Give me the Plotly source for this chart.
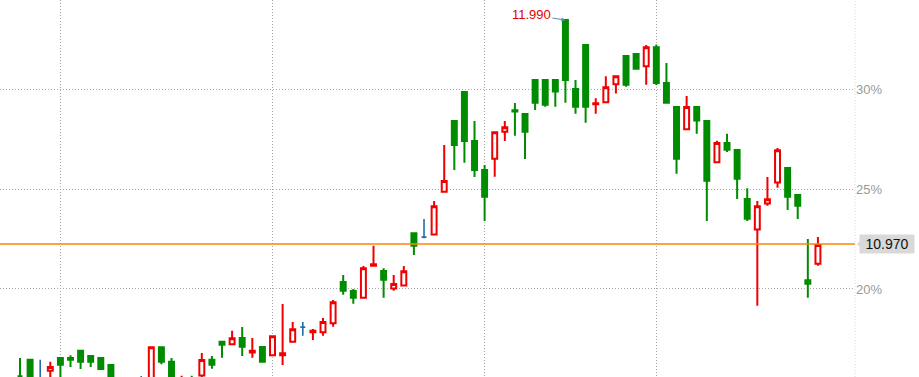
import plotly.graph_objects as go

# ---- data ----
opens = [10.367, 10.442, 10.346, 10.393, 10.451, 10.451, 10.483, 10.460, 10.451, 10.419,
         10.282, 10.305, 10.328, 10.328, 10.500, 10.433, 10.305, 10.351, 10.371, 10.442,
         10.524, 10.513, 10.542, 10.476, 10.501, 10.463, 10.463, 10.525, 10.591, 10.568,
         10.568, 10.609, 10.797, 10.756, 10.725, 10.871, 10.847, 10.767, 10.781, 11.019,
         11.001, 11.013, 11.208, 11.530, 11.662, 11.439, 11.307, 11.358, 11.481, 11.579,
         11.562, 11.717, 11.717, 11.717, 11.990, 11.676, 11.876, 11.606, 11.615, 11.697,
         11.826, 11.835, 11.779, 11.866, 11.703, 11.594, 11.492, 11.594, 11.530, 11.342,
         11.430, 11.398, 11.175, 11.036, 11.154, 11.250, 11.316, 11.193, 10.805, 10.880]
highs = [10.451, 10.442, 10.442, 10.433, 10.451, 10.463, 10.483, 10.460, 10.451, 10.419,
         10.351, 10.342, 10.369, 10.500, 10.500, 10.451, 10.370, 10.370, 10.473, 10.460,
         10.524, 10.575, 10.592, 10.542, 10.501, 10.550, 10.697, 10.615, 10.615, 10.583,
         10.633, 10.715, 10.829, 10.765, 10.870, 10.962, 10.859, 10.829, 10.870, 11.019,
         11.084, 11.166, 11.421, 11.530, 11.662, 11.530, 11.330, 11.479, 11.530, 11.612,
         11.562, 11.717, 11.717, 11.717, 11.990, 11.717, 11.876, 11.634, 11.734, 11.734,
         11.826, 11.835, 11.876, 11.878, 11.794, 11.594, 11.644, 11.594, 11.530, 11.440,
         11.472, 11.398, 11.224, 11.166, 11.275, 11.407, 11.316, 11.193, 10.993, 11.002]
lows = [10.342, 10.314, 10.323, 10.351, 10.351, 10.410, 10.401, 10.410, 10.401, 10.314,
        10.269, 10.260, 10.296, 10.314, 10.422, 10.314, 10.296, 10.296, 10.342, 10.402,
        10.452, 10.513, 10.460, 10.452, 10.433, 10.463, 10.419, 10.525, 10.552, 10.533,
        10.552, 10.593, 10.739, 10.698, 10.725, 10.871, 10.725, 10.757, 10.781, 10.920,
        10.996, 11.013, 11.208, 11.307, 11.340, 11.275, 11.075, 11.276, 11.439, 11.463,
        11.357, 11.580, 11.595, 11.595, 11.613, 11.563, 11.522, 11.563, 11.615, 11.655,
        11.686, 11.768, 11.695, 11.694, 11.613, 11.290, 11.492, 11.472, 11.075, 11.342,
        11.389, 11.175, 11.075, 10.689, 11.144, 11.226, 11.125, 11.084, 10.725, 10.871]
closes = [10.367, 10.328, 10.346, 10.410, 10.420, 10.442, 10.433, 10.433, 10.401, 10.328,
          10.328, 10.278, 10.328, 10.500, 10.434, 10.328, 10.351, 10.314, 10.441, 10.420,
          10.511, 10.541, 10.502, 10.483, 10.433, 10.550, 10.472, 10.582, 10.591, 10.575,
          10.615, 10.705, 10.757, 10.725, 10.859, 10.878, 10.807, 10.787, 10.846, 10.962,
          11.001, 11.142, 11.257, 11.421, 11.439, 11.307, 11.185, 11.479, 11.501, 11.573,
          11.481, 11.613, 11.604, 11.664, 11.717, 11.595, 11.595, 11.611, 11.684, 11.734,
          11.695, 11.768, 11.866, 11.703, 11.613, 11.358, 11.594, 11.532, 11.258, 11.430,
          11.399, 11.267, 11.085, 11.142, 11.174, 11.397, 11.185, 11.144, 10.789, 10.965]
flat_days = [2, 12, 28, 40]          # drawn as blue crosses

last_price = 10.970
peak_label = "11.990"
ytick_vals = [10.765, 11.220, 11.675]
ytick_text = ["20%", "25%", "30%"]
month_starts = [4, 25, 46, 63]


def classify(i):
    if i in flat_days:
        return "b"
    return "r" if closes[i] > opens[i] else "g"


x = list(range(len(opens)))
groups = {"r": [], "g": [], "b": []}
for i in x:
    groups[classify(i)].append(i)

styles = {
    "r": dict(line="#f00000", fill="#ffffff", w=2),
    "g": dict(line="#008c00", fill="#008c00", w=2),
    "b": dict(line="#1f6fa8", fill="#1f6fa8", w=1.6),
}

fig = go.Figure()
for k, idx in groups.items():
    st = styles[k]
    fig.add_trace(go.Candlestick(
        x=idx,
        open=[opens[i] for i in idx], high=[highs[i] for i in idx],
        low=[lows[i] for i in idx], close=[closes[i] for i in idx],
        increasing=dict(line=dict(color=st["line"], width=st["w"]), fillcolor=st["fill"]),
        decreasing=dict(line=dict(color=st["line"], width=st["w"]), fillcolor=st["fill"]),
        whiskerwidth=0, showlegend=False, hoverinfo="skip",
    ))

fig.add_shape(type="line", xref="paper", x0=0, x1=1, yref="y", y0=last_price, y1=last_price,
              line=dict(color="#ff8400", width=1.5), layer="above")
fig.add_shape(type="line", xref="paper", x0=1, x1=1, yref="paper", y0=0, y1=1,
              line=dict(color="#d8d8d8", width=1, dash="1px,2px"))
# notch of the price tag
fig.add_shape(type="path", xref="paper", xsizemode="pixel", xanchor=1,
              yref="y", ysizemode="pixel", yanchor=last_price,
              path="M 2 0 L 7 -5 L 7 5 Z", fillcolor="#d9d9d9", line=dict(width=0))

fig.add_annotation(xref="paper", x=1, xanchor="left", xshift=4, yref="y", y=last_price,
                   text="10.970", showarrow=False, bgcolor="#d9d9d9", width=52, height=16,
                   font=dict(family="Liberation Sans, Arial", size=14, color="#111111"))
fig.add_annotation(x=54, y=highs[54], text=peak_label, showarrow=True, ax=-34, ay=-5,
                   arrowhead=2, arrowsize=0.8, arrowwidth=1, arrowcolor="#5a8ab5",
                   font=dict(family="Liberation Sans, Arial", size=13, color="#e00000"))

fig.update_layout(
    width=919, height=377, margin=dict(l=0, r=64, t=0, b=0),
    paper_bgcolor="white", plot_bgcolor="white",
    xaxis=dict(range=[-1.98, 82.67], rangeslider=dict(visible=False), tickvals=month_starts,
               showticklabels=False, showgrid=True, gridcolor="#a8a8a8", griddash="1px,2px",
               gridwidth=1, zeroline=False, showline=False, ticks=""),
    yaxis=dict(range=[10.364, 12.081], side="right", tickvals=ytick_vals, ticktext=ytick_text,
               showgrid=True, gridcolor="#a8a8a8", griddash="1px,2px", gridwidth=1,
               zeroline=False, showline=False, ticks="",
               tickfont=dict(family="Liberation Sans, Arial", size=13, color="#999999")),
)
fig.write_html("out.html")
